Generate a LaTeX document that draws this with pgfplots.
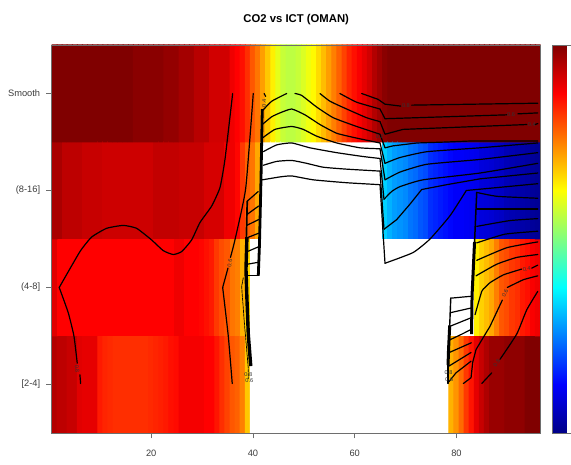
\documentclass[border=0pt]{standalone}
\usepackage{fontspec}
\setmainfont{Liberation Sans}
\usepackage{pgfplots}
\pgfplotsset{compat=1.18}
\definecolor{axgray}{RGB}{110,110,110}
\definecolor{lblgray}{RGB}{60,60,60}
\pgfplotsset{
  cl/.style={black,line width=1.2pt,line join=round,line cap=round},
  cs/.style={cl,smooth,tension=0.3},
  wjet/.style={colormap={wjet}{rgb255(0)=(255,255,255) rgb255(9)=(255,255,255) rgb255(10)=(0,0,135) rgb255(135)=(0,0,255) rgb255(385)=(0,255,255) rgb255(635)=(255,255,0) rgb255(885)=(255,0,0) rgb255(1010)=(128,0,0)}},
  colormap={jetbar}{rgb255(0)=(0,0,135) rgb255(125)=(0,0,255) rgb255(375)=(0,255,255) rgb255(625)=(255,255,0) rgb255(875)=(255,0,0) rgb255(1000)=(128,0,0)},
}
\newcommand{\cl}[4]{\node[font=\fontsize{5.6}{6}\selectfont,text=black!80,rotate=#3,inner sep=0pt] at (axis cs:#1,#2) {#4};}
\begin{document}
\begin{tikzpicture}
\path[use as bounding box] (0pt,0pt) rectangle (571pt,465pt);
\begin{axis}[
  wjet,
  at={(51.7pt,32pt)},anchor=south west,
  scale only axis,width=489pt,height=388pt,
  xmin=0.45,xmax=96.55,ymin=0.5,ymax=4.5,
  axis on top,
  axis line style={axgray,line width=0.8pt},
  tick style={axgray,line width=0.8pt},
  tick align=outside,major tick length=5.5pt,
  xtick pos=bottom,ytick pos=left,
  xtick={20,40,60,80},
  ytick={1,2,3,4},
  yticklabels={{[2-4]},{(4-8]},{(8-16]},{Smooth}},
  tick label style={font=\fontsize{9.3}{11}\selectfont,text=lblgray},
  /pgf/number format/assume math mode=true,
  xticklabel style={yshift=-8pt},
  yticklabel style={xshift=-2.5pt},
  point meta min=-0.01,point meta max=1,
  title={\textbf{CO2 vs ICT (OMAN)}},
  title style={font=\fontsize{11.3}{13}\selectfont,at={(0.5,1)},anchor=base,yshift=16.4pt},
]
\addplot[matrix plot*,mesh/cols=96,point meta=\thisrow{z},shader=faceted,faceted color=mapped color,line width=1pt] table[row sep=\\]{
x y z\\
1 1 .95\\2 1 .94\\3 1 .94\\4 1 .93\\5 1 .93\\6 1 .905\\7 1 .90\\8 1 .90\\9 1 .90\\10 1 .85\\11 1 .84\\12 1 .835\\13 1 .83\\14 1 .83\\15 1 .83\\16 1 .83\\17 1 .83\\18 1 .83\\19 1 .83\\20 1 .835\\21 1 .84\\22 1 .845\\23 1 .85\\24 1 .86\\25 1 .865\\26 1 .885\\27 1 .885\\28 1 .885\\29 1 .885\\30 1 .885\\31 1 .875\\32 1 .875\\33 1 .855\\34 1 .83\\35 1 .81\\36 1 .79\\37 1 .78\\38 1 .75\\39 1 .68\\40 1 -.01\\41 1 -.01\\42 1 -.01\\43 1 -.01\\44 1 -.01\\45 1 -.01\\46 1 -.01\\47 1 -.01\\48 1 -.01\\49 1 -.01\\50 1 -.01\\51 1 -.01\\52 1 -.01\\53 1 -.01\\54 1 -.01\\55 1 -.01\\56 1 -.01\\57 1 -.01\\58 1 -.01\\59 1 -.01\\60 1 -.01\\61 1 -.01\\62 1 -.01\\63 1 -.01\\64 1 -.01\\65 1 -.01\\66 1 -.01\\67 1 -.01\\68 1 -.01\\69 1 -.01\\70 1 -.01\\71 1 -.01\\72 1 -.01\\73 1 -.01\\74 1 -.01\\75 1 -.01\\76 1 -.01\\77 1 -.01\\78 1 -.01\\79 1 .70\\80 1 .73\\81 1 .77\\82 1 .82\\83 1 .855\\84 1 .90\\85 1 .93\\86 1 .955\\87 1 .975\\88 1 .975\\89 1 .975\\90 1 .985\\91 1 .985\\92 1 .985\\93 1 .985\\94 1 1\\95 1 1\\96 1 1\\
1 2 .905\\2 2 .875\\3 2 .875\\4 2 .875\\5 2 .875\\6 2 .875\\7 2 .875\\8 2 .875\\9 2 .875\\10 2 .875\\11 2 .875\\12 2 .875\\13 2 .875\\14 2 .875\\15 2 .875\\16 2 .875\\17 2 .875\\18 2 .875\\19 2 .875\\20 2 .875\\21 2 .875\\22 2 .875\\23 2 .875\\24 2 .875\\25 2 .89\\26 2 .89\\27 2 .875\\28 2 .875\\29 2 .875\\30 2 .87\\31 2 .86\\32 2 .85\\33 2 .82\\34 2 .80\\35 2 .79\\36 2 .76\\37 2 .75\\38 2 .70\\39 2 .66\\40 2 -.01\\41 2 -.01\\42 2 -.01\\43 2 -.01\\44 2 -.01\\45 2 -.01\\46 2 -.01\\47 2 -.01\\48 2 -.01\\49 2 -.01\\50 2 -.01\\51 2 -.01\\52 2 -.01\\53 2 -.01\\54 2 -.01\\55 2 -.01\\56 2 -.01\\57 2 -.01\\58 2 -.01\\59 2 -.01\\60 2 -.01\\61 2 -.01\\62 2 -.01\\63 2 -.01\\64 2 -.01\\65 2 -.01\\66 2 -.01\\67 2 -.01\\68 2 -.01\\69 2 -.01\\70 2 -.01\\71 2 -.01\\72 2 -.01\\73 2 -.01\\74 2 -.01\\75 2 -.01\\76 2 -.01\\77 2 -.01\\78 2 -.01\\79 2 -.01\\80 2 -.01\\81 2 -.01\\82 2 -.01\\83 2 -.01\\84 2 .64\\85 2 .67\\86 2 .69\\87 2 .71\\88 2 .75\\89 2 .79\\90 2 .80\\91 2 .82\\92 2 .83\\93 2 .85\\94 2 .86\\95 2 .88\\96 2 .89\\
1 3 .96\\2 3 .96\\3 3 .94\\4 3 .94\\5 3 .94\\6 3 .94\\7 3 .93\\8 3 .93\\9 3 .93\\10 3 .93\\11 3 .924\\12 3 .924\\13 3 .924\\14 3 .924\\15 3 .924\\16 3 .924\\17 3 .924\\18 3 .924\\19 3 .924\\20 3 .924\\21 3 .935\\22 3 .935\\23 3 .935\\24 3 .935\\25 3 .935\\26 3 .93\\27 3 .93\\28 3 .93\\29 3 .93\\30 3 .93\\31 3 .915\\32 3 .915\\33 3 .915\\34 3 .915\\35 3 .89\\36 3 .89\\37 3 .87\\38 3 .82\\39 3 .78\\40 3 .76\\41 3 .71\\42 3 -.01\\43 3 -.01\\44 3 -.01\\45 3 -.01\\46 3 -.01\\47 3 -.01\\48 3 -.01\\49 3 -.01\\50 3 -.01\\51 3 -.01\\52 3 -.01\\53 3 -.01\\54 3 -.01\\55 3 -.01\\56 3 -.01\\57 3 -.01\\58 3 -.01\\59 3 -.01\\60 3 -.01\\61 3 -.01\\62 3 -.01\\63 3 -.01\\64 3 -.01\\65 3 -.01\\66 3 .33\\67 3 .30\\68 3 .28\\69 3 .27\\70 3 .26\\71 3 .24\\72 3 .23\\73 3 .21\\74 3 .20\\75 3 .17\\76 3 .16\\77 3 .15\\78 3 .14\\79 3 .13\\80 3 .12\\81 3 .12\\82 3 .115\\83 3 .11\\84 3 .105\\85 3 .09\\86 3 .085\\87 3 .08\\88 3 .07\\89 3 .065\\90 3 .05\\91 3 .045\\92 3 .04\\93 3 .035\\94 3 .03\\95 3 .02\\96 3 .015\\
1 4 1\\2 4 1\\3 4 1\\4 4 1\\5 4 1\\6 4 1\\7 4 1\\8 4 1\\9 4 1\\10 4 1\\11 4 1\\12 4 1\\13 4 1\\14 4 1\\15 4 1\\16 4 1\\17 4 .99\\18 4 .99\\19 4 .99\\20 4 .99\\21 4 .99\\22 4 .99\\23 4 .98\\24 4 .98\\25 4 .98\\26 4 .965\\27 4 .965\\28 4 .965\\29 4 .945\\30 4 .945\\31 4 .945\\32 4 .92\\33 4 .92\\34 4 .92\\35 4 .92\\36 4 .89\\37 4 .875\\38 4 .86\\39 4 .83\\40 4 .79\\41 4 .76\\42 4 .72\\43 4 .68\\44 4 .64\\45 4 .60\\46 4 .57\\47 4 .56\\48 4 .56\\49 4 .57\\50 4 .59\\51 4 .61\\52 4 .63\\53 4 .66\\54 4 .69\\55 4 .72\\56 4 .75\\57 4 .78\\58 4 .81\\59 4 .84\\60 4 .86\\61 4 .88\\62 4 .90\\63 4 .92\\64 4 .95\\65 4 .97\\66 4 .99\\67 4 1\\68 4 1\\69 4 1\\70 4 1\\71 4 1\\72 4 1\\73 4 1\\74 4 1\\75 4 1\\76 4 1\\77 4 1\\78 4 1\\79 4 1\\80 4 1\\81 4 1\\82 4 1\\83 4 1\\84 4 1\\85 4 1\\86 4 1\\87 4 1\\88 4 1\\89 4 1\\90 4 1\\91 4 1\\92 4 1\\93 4 1\\94 4 1\\95 4 1\\96 4 1\\
};
% left contours
\addplot[cl] coordinates {(6.13,1.01)(6.00,1.10)};
\addplot[cs] coordinates {(5.47,1.22)(4.82,1.50)(3.70,1.74)(1.93,2.00)};
\addplot[cs] coordinates {(1.93,2.00)(6.00,2.37)(8.30,2.52)(11.24,2.61)(14.51,2.64)(17.14,2.61)(20.09,2.49)(22.37,2.38)(24.34,2.34)(25.99,2.37)(27.95,2.49)(29.59,2.67)(31.89,2.84)(33.52,3.03)(34.50,3.32)(36.01,4.00)};
\addplot[cs] coordinates {(35.93,1.01)(35.15,1.50)(34.05,2.00)};
\addplot[cl] coordinates {(34.05,2.00)(35.09,2.20)};
\addplot[cs] coordinates {(35.58,2.31)(36.46,2.49)(38.57,3.02)(40.06,4.00)};
% left walls
\addplot[cl,line width=2.8pt,line cap=butt] coordinates {(41.83,3.84)(41.58,3.11)(41.28,2.44)(41.05,2.12)};
\addplot[cl] coordinates {(41.05,2.12)(39.02,2.12)};
\addplot[cl,line width=1.7pt] coordinates {(38.88,2.89)(38.70,2.51)};
\addplot[cl,line width=3.4pt,line cap=butt] coordinates {(38.82,2.52)(38.63,2.19)(38.82,1.88)(39.08,1.52)(39.57,1.19)};
\addplot[cl] coordinates {(38.88,2.89)(41.05,2.99)};
\addplot[cl] coordinates {(38.76,2.75)(41.12,2.84)};
\addplot[cl] coordinates {(38.76,2.64)(41.12,2.70)};
\addplot[cl] coordinates {(38.69,2.51)(41.16,2.56)};
\addplot[cl] coordinates {(38.88,2.37)(41.12,2.42)};
\addplot[cl] coordinates {(38.88,2.24)(41.08,2.26)};
\addplot[cl,line width=0.7pt,dash pattern=on 3pt off 1pt] coordinates {(38.10,2.10)(37.78,2.01)(38.29,1.65)(39.08,1.17)(39.08,1.06)};
\addplot[cl] coordinates {(42.20,4.00)(42.50,3.97)};
% hump and plateau
\addplot[cs] coordinates {(41.83,3.82)(43.68,3.92)(46.63,4.00)};
\addplot[cs] coordinates {(48.26,4.00)(49.58,3.98)(52.53,3.86)(55.79,3.75)(60.39,3.66)(64.97,3.58)};
\addplot[cl] coordinates {(64.97,3.58)(65.95,3.44)(67.52,3.46)(72.24,3.49)(78.14,3.50)(82.66,3.51)(95.97,3.51)};
\addplot[cs] coordinates {(61.37,4.00)(64.58,3.94)};
\addplot[cl] coordinates {(64.58,3.94)(65.95,3.89)(69.04,3.87)};
\addplot[cl] coordinates {(71.20,3.88)(95.97,3.90)};
\addplot[cs] coordinates {(57.09,4.00)(60.39,3.91)(64.97,3.84)};
\addplot[cl] coordinates {(64.97,3.84)(65.95,3.74)(89.88,3.78)};
\addplot[cl] coordinates {(92.04,3.79)(95.97,3.80)};
\addplot[cs] coordinates {(53.17,4.00)(55.14,3.92)(58.42,3.84)(62.35,3.75)(64.97,3.71)};
\addplot[cl] coordinates {(64.97,3.71)(65.95,3.58)(69.49,3.63)(93.81,3.68)};
\addplot[cl] coordinates {(95.44,3.68)(95.97,3.69)};
\addplot[cs] coordinates {(41.83,3.68)(43.68,3.76)(45.31,3.80)(47.61,3.84)(50.22,3.78)(53.17,3.68)(56.46,3.59)(60.39,3.54)(64.97,3.49)};
\addplot[cl] coordinates {(64.97,3.49)(65.95,3.28)};
\addplot[cs] coordinates {(65.95,3.28)(68.90,3.34)(74.20,3.40)(84.60,3.44)(95.97,3.49)};
\addplot[cs] coordinates {(41.83,3.54)(44.33,3.63)(47.61,3.66)(49.89,3.63)(52.53,3.56)(56.46,3.49)(61.04,3.44)(64.97,3.43)};
\addplot[cl] coordinates {(64.97,3.43)(65.95,3.11)};
\addplot[cs] coordinates {(65.95,3.11)(68.90,3.19)(74.15,3.27)(84.60,3.32)(95.97,3.39)};
\addplot[cs] coordinates {(42.03,3.40)(44.66,3.47)(47.61,3.49)(51.21,3.44)(56.46,3.39)(61.69,3.35)(64.97,3.33)};
\addplot[cl] coordinates {(64.97,3.33)(65.75,2.91)};
\addplot[cs] coordinates {(65.75,2.91)(67.27,2.99)(68.90,3.04)(73.42,3.11)(84.60,3.18)(95.97,3.28)};
\addplot[cs] coordinates {(42.03,3.26)(44.66,3.30)(47.61,3.31)(50.56,3.28)(53.82,3.24)(58.42,3.22)(64.97,3.20)};
\addplot[cl] coordinates {(64.97,3.20)(65.75,2.60)};
\addplot[cl] coordinates {(65.75,2.60)(68.25,2.70)(70.87,2.86)(73.16,3.01)(78.08,3.06)(84.60,3.12)(95.97,3.18)};
\addplot[cs] coordinates {(41.83,3.11)(45.31,3.14)(47.61,3.15)(51.86,3.11)(58.42,3.08)(64.97,3.06)};
\addplot[cl] coordinates {(64.97,3.06)(65.95,2.25)};
\addplot[cs] coordinates {(65.95,2.25)(71.46,2.36)(74.80,2.50)(78.73,2.74)(81.93,3.00)};
\addplot[cl] coordinates {(81.93,3.00)(95.97,3.07)};
% right walls
\addplot[cl,line width=1.5pt] coordinates {(83.98,2.98)(83.55,2.47)};
\addplot[cl,line width=3pt,line cap=butt] coordinates {(83.55,2.47)(83.06,1.92)(82.96,1.52)};
\addplot[cs] coordinates {(83.98,2.98)(87.97,2.94)(95.97,2.92)};
\addplot[cl] coordinates {(83.98,2.81)(95.97,2.81)};
\addplot[cs] coordinates {(83.98,2.63)(90.52,2.69)(95.97,2.71)};
\addplot[cs] coordinates {(83.98,2.46)(89.54,2.55)(95.97,2.58)};
\addplot[cs] coordinates {(83.98,2.28)(89.88,2.41)(95.97,2.47)};
\addplot[cs] coordinates {(83.84,2.12)(87.91,2.24)(91.84,2.31)(95.97,2.34)};
\addplot[cs] coordinates {(83.65,1.72)(84.96,1.96)(85.61,2.00)(86.59,2.05)(89.21,2.13)(92.82,2.19)};
\addplot[cl] coordinates {(94.79,2.20)(95.97,2.23)};
\addplot[cl] coordinates {(81.35,1.01)(82.86,1.07)(83.19,1.23)(83.84,1.36)(86.59,1.60)(89.01,1.87)};
\addplot[cs] coordinates {(89.99,2.00)(93.14,2.08)(95.97,2.12)};
\addplot[cl] coordinates {(84.96,1.01)(86.93,1.12)};
\addplot[cs] coordinates {(88.56,1.26)(91.84,1.52)(93.81,1.77)(95.97,1.96)};
\addplot[cl,line width=1.4pt] coordinates {(78.87,1.89)(78.67,1.61)};
\addplot[cl,line width=3pt,line cap=butt] coordinates {(78.67,1.61)(78.44,1.36)(78.34,1.20)};
\addplot[cl] coordinates {(78.34,1.20)(78.34,1.01)};
\addplot[cl] coordinates {(78.87,1.89)(82.99,1.91)};
\addplot[cl] coordinates {(78.79,1.74)(82.99,1.79)};
\addplot[cl] coordinates {(78.73,1.60)(82.96,1.69)};
\addplot[cl] coordinates {(78.67,1.46)(81.09,1.52)(82.96,1.57)};
\addplot[cl] coordinates {(78.59,1.33)(82.91,1.43)};
\addplot[cl] coordinates {(78.53,1.19)(82.86,1.33)};
\addplot[cl] coordinates {(78.53,1.03)(79.90,1.12)(82.86,1.24)};
% contour labels
\cl{5.47}{1.16}{-85}{0.8}
\cl{35.48}{2.25}{80}{0.6}
\cl{42.20}{3.90}{90}{0.4}
\cl{70.06}{3.88}{0}{0.8}
\cl{90.72}{3.78}{0}{0.6}
\cl{94.79}{3.68}{0}{0.4}
\cl{93.81}{2.19}{5}{0.4}
\cl{89.54}{1.94}{65}{0.6}
\cl{87.91}{1.22}{55}{0.8}
\cl{39.10}{1.10}{0}{0.8}
\cl{39.30}{1.04}{0}{0.6}
\cl{78.45}{1.12}{0}{0.8}
\cl{78.60}{1.05}{0}{0.6}
\cl{64.90}{3.56}{0}{0.2}
\end{axis}
\pgfplotscolorbardrawstandalone[
  colormap name=jetbar,
  point meta min=0,point meta max=1,
  colorbar style={
    at={(544pt,32pt)},anchor=south west,
    scale only axis,width=30pt,height=388pt,
    ytick=\empty,
    axis line style={axgray,line width=0.8pt},
  },
]
\end{tikzpicture}
\end{document}
